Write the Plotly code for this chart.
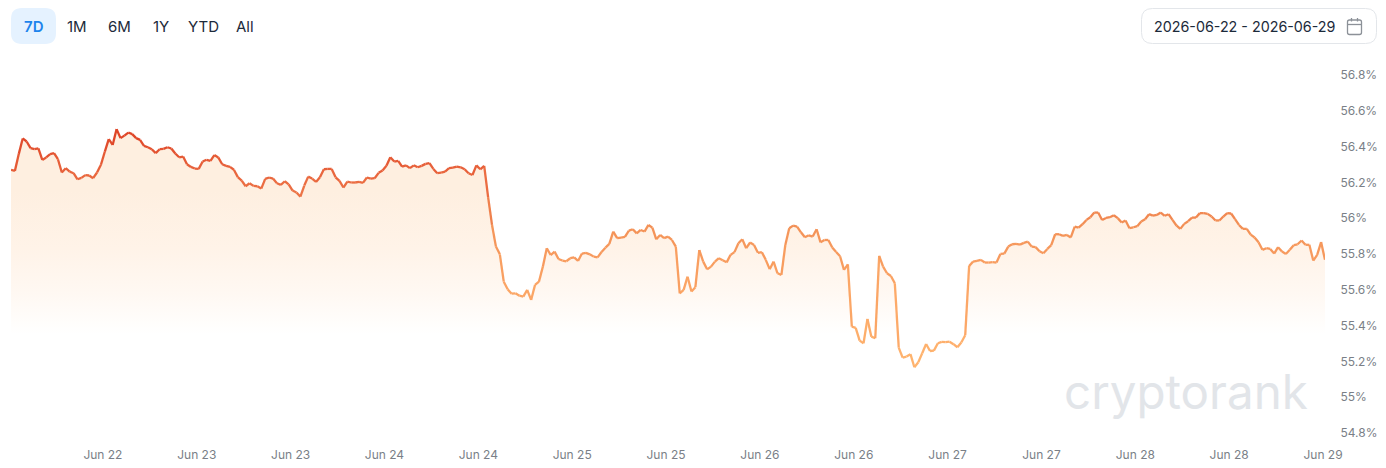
import pandas as pd
import plotly.graph_objects as go
from plotly.colors import sample_colorscale

# share values, half-hourly, one list per stretch
values_jun22 = [56.27, 56.264, 56.359, 56.445, 56.428, 56.391, 56.385, 56.39, 56.325, 56.339, 56.357, 56.363,
                56.329, 56.255, 56.279, 56.26, 56.251, 56.217, 56.225, 56.24, 56.238, 56.223, 56.255, 56.298,
                56.372, 56.441, 56.409, 56.497, 56.447, 56.461, 56.478, 56.469, 56.447, 56.437, 56.404, 56.396,
                56.385, 56.363, 56.385, 56.387, 56.396, 56.389, 56.361, 56.34, 56.344, 56.301, 56.286, 56.277]
values_jun23 = [56.275, 56.316, 56.326, 56.32, 56.352, 56.339, 56.301, 56.292, 56.286, 56.27, 56.229, 56.21,
                56.178, 56.195, 56.18, 56.178, 56.165, 56.219, 56.227, 56.221, 56.195, 56.186, 56.206, 56.189,
                56.154, 56.143, 56.12, 56.182, 56.232, 56.221, 56.202, 56.228, 56.273, 56.275, 56.275, 56.228,
                56.208, 56.171, 56.204, 56.199, 56.199, 56.202, 56.197, 56.227, 56.221, 56.223, 56.253, 56.266]
values_jun24 = [56.292, 56.34, 56.316, 56.32, 56.288, 56.295, 56.279, 56.295, 56.284, 56.292, 56.303, 56.307,
                56.275, 56.251, 56.254, 56.26, 56.279, 56.282, 56.288, 56.284, 56.273, 56.251, 56.241, 56.295,
                56.273, 56.292, 56.117, 55.962, 55.841, 55.798, 55.645, 55.603, 55.578, 55.58, 55.567, 55.562,
                55.599, 55.543, 55.627, 55.645, 55.729, 55.832, 55.794, 55.813, 55.772, 55.763, 55.759, 55.776]
values_jun25 = [55.781, 55.761, 55.802, 55.806, 55.798, 55.785, 55.781, 55.811, 55.835, 55.856, 55.925, 55.888,
                55.891, 55.895, 55.93, 55.938, 55.915, 55.934, 55.925, 55.962, 55.947, 55.882, 55.906, 55.888,
                55.897, 55.878, 55.841, 55.58, 55.599, 55.673, 55.59, 55.614, 55.822, 55.757, 55.714, 55.729,
                55.757, 55.776, 55.765, 55.753, 55.795, 55.81, 55.86, 55.882, 55.832, 55.864, 55.85, 55.806]
values_jun26 = [55.81, 55.767, 55.715, 55.757, 55.692, 55.683, 55.85, 55.944, 55.958, 55.953, 55.921, 55.893,
                55.904, 55.897, 55.938, 55.865, 55.878, 55.878, 55.836, 55.811, 55.787, 55.711, 55.742, 55.394,
                55.387, 55.316, 55.301, 55.437, 55.338, 55.329, 55.789, 55.729, 55.692, 55.677, 55.636, 55.277,
                55.221, 55.227, 55.24, 55.167, 55.195, 55.245, 55.297, 55.258, 55.26, 55.301, 55.309, 55.307]
values_jun27 = [55.31, 55.296, 55.279, 55.305, 55.346, 55.733, 55.757, 55.761, 55.767, 55.752, 55.752, 55.754,
                55.752, 55.8, 55.802, 55.841, 55.854, 55.856, 55.852, 55.862, 55.869, 55.841, 55.838, 55.815,
                55.804, 55.828, 55.849, 55.91, 55.91, 55.901, 55.906, 55.892, 55.953, 55.947, 55.966, 55.99,
                56.005, 56.031, 56.031, 55.99, 56.001, 56.005, 56.016, 56.0, 55.975, 55.987, 55.944, 55.949]
values_jun28 = [55.955, 55.981, 55.994, 56.022, 56.014, 56.018, 56.031, 56.013, 56.022, 55.99, 55.959, 55.94,
                55.968, 55.983, 56.003, 56.003, 56.028, 56.028, 56.024, 56.009, 55.987, 55.987, 56.009, 56.028,
                56.026, 55.994, 55.962, 55.94, 55.94, 55.908, 55.892, 55.865, 55.823, 55.832, 55.828, 55.802,
                55.838, 55.813, 55.80, 55.823, 55.849, 55.854, 55.875, 55.851, 55.851, 55.763, 55.795, 55.866,
                55.767]

y_ticks = [54.8, 55, 55.2, 55.4, 55.6, 55.8, 56, 56.2, 56.4, 56.6, 56.8]
y_labels = ["54.8%", "55%", "55.2%", "55.4%", "55.6%", "55.8%", "56%", "56.2%", "56.4%", "56.6%", "56.8%"]
x_labels = ["Jun 22", "Jun 23", "Jun 23", "Jun 24", "Jun 24", "Jun 25", "Jun 25", "Jun 26", "Jun 26",
            "Jun 27", "Jun 27", "Jun 28", "Jun 28", "Jun 29"]
range_buttons = ["7D", "1M", "6M", "1Y", "YTD", "All"]
date_range_text = "2026-06-22 - 2026-06-29"

W, H = 1386, 468
M_L, M_R, M_T, M_B = 11, 61, 57, 25
FONT = "Inter"

values = values_jun22 + values_jun23 + values_jun24 + values_jun25 + values_jun26 + values_jun27 + values_jun28
times = pd.date_range("2026-06-22 00:00", periods=len(values), freq="30min")
x_ticks = pd.date_range("2026-06-22 11:45", periods=len(x_labels), freq="12h")

line_scale = [[0, "#ffb56f"], [0.35, "#fba465"], [0.6, "#f39257"], [0.8, "#ea6a40"], [1, "#de4326"]]
y_low, y_high = 55.15, 56.48


# page pixels to paper coords (paper is the plot area)
def px(x):
    return (x - M_L) / (W - M_L - M_R)


def py(y):
    return 1 - (y - M_T) / (H - M_T - M_B)


def rounded(x0, y0, x1, y1, r):
    # rounded rectangle path in paper coords, given in page pixels
    return (f"M {px(x0 + r)} {py(y0)} L {px(x1 - r)} {py(y0)} Q {px(x1)} {py(y0)} {px(x1)} {py(y0 + r)} "
            f"L {px(x1)} {py(y1 - r)} Q {px(x1)} {py(y1)} {px(x1 - r)} {py(y1)} "
            f"L {px(x0 + r)} {py(y1)} Q {px(x0)} {py(y1)} {px(x0)} {py(y1 - r)} "
            f"L {px(x0)} {py(y0 + r)} Q {px(x0)} {py(y0)} {px(x0 + r)} {py(y0)} Z")


fig = go.Figure()

# area under the line, fading out around 55.4
fig.add_trace(go.Scatter(
    x=times, y=values, mode="lines", line=dict(width=0), fill="tozeroy", hoverinfo="skip", showlegend=False,
    fillgradient=dict(type="vertical", start=55.35, stop=56.15,
                      colorscale=[[0, "#ffffff"], [0.3, "#fff8f2"], [0.6, "#fff3e8"], [1, "#feefe0"]]),
))

# the line changes colour with height, so group its segments into colour bands
n_bands = 30
bands = [dict(x=[], y=[]) for _ in range(n_bands)]
for i in range(len(values) - 1):
    mid = (values[i] + values[i + 1]) / 2
    k = int((mid - y_low) / (y_high - y_low) * n_bands)
    k = max(0, min(n_bands - 1, k))
    bands[k]["x"] += [times[i], times[i + 1], None]
    bands[k]["y"] += [values[i], values[i + 1], None]

band_colors = sample_colorscale(line_scale, [(k + 0.5) / n_bands for k in range(n_bands)])
for band, color in zip(bands, band_colors):
    fig.add_trace(go.Scatter(x=band["x"], y=band["y"], mode="lines", showlegend=False, hoverinfo="skip",
                             connectgaps=False, line=dict(color=color, width=2.3)))

shapes = [
    dict(type="path", xref="paper", yref="paper", path=rounded(11, 8, 56, 44, 11), fillcolor="#e5f2ff",
         line=dict(width=0), layer="below"),
    dict(type="path", xref="paper", yref="paper", path=rounded(1141.5, 8.5, 1376.5, 43.5, 11),
         fillcolor="#ffffff", line=dict(color="#e3e6ea", width=1)),
    # calendar icon
    dict(type="path", xref="paper", yref="paper", path=rounded(1347.5, 20, 1361.5, 34.5, 2),
         line=dict(color="#8c9198", width=1.3)),
    dict(type="line", xref="paper", yref="paper", x0=px(1347.5), x1=px(1361.5), y0=py(24.5), y1=py(24.5),
         line=dict(color="#8c9198", width=1.3)),
    dict(type="line", xref="paper", yref="paper", x0=px(1351.5), x1=px(1351.5), y0=py(18), y1=py(21.5),
         line=dict(color="#8c9198", width=1.3)),
    dict(type="line", xref="paper", yref="paper", x0=px(1357.5), x1=px(1357.5), y0=py(18), y1=py(21.5),
         line=dict(color="#8c9198", width=1.3)),
]

button_x = [34, 77, 119, 161, 203, 245]
annotations = []
for label, bx in zip(range_buttons, button_x):
    active = label == "7D"
    annotations.append(dict(
        text=label, x=px(bx), y=py(26.5), xref="paper", yref="paper",
        showarrow=False, xanchor="center", yanchor="middle",
        font=dict(family=FONT, size=15, weight=600 if active else 400, color="#1d84ec" if active else "#1c2a3a"),
    ))
annotations.append(dict(text=date_range_text, x=px(1245), y=py(26.5), xref="paper", yref="paper",
                        showarrow=False, xanchor="center", yanchor="middle",
                        font=dict(family=FONT, size=14.3, color="#1c2a3a")))
annotations.append(dict(text="cryptorank", x=px(1185.5), y=py(391), xref="paper", yref="paper",
                        showarrow=False, xanchor="center", yanchor="middle",
                        font=dict(family=FONT, size=47.5, color="#e2e5e9")))

fig.update_layout(
    width=W, height=H,
    margin=dict(l=M_L, r=M_R, t=M_T, b=M_B, autoexpand=False),
    paper_bgcolor="#ffffff", plot_bgcolor="#ffffff",
    shapes=shapes, annotations=annotations, showlegend=False,
    xaxis=dict(range=[times[0], times[-1]], tickmode="array", tickvals=list(x_ticks), ticktext=x_labels,
               showgrid=False, zeroline=False, showline=False, ticks="outside", ticklen=1,
               tickcolor="rgba(0,0,0,0)", tickangle=0, tickfont=dict(family=FONT, size=12, color="#7a7f87")),
    yaxis=dict(range=[54.744, 56.9], side="right", tickmode="array", tickvals=y_ticks, ticktext=y_labels,
               showgrid=False, zeroline=False, showline=False, ticks="outside", ticklen=12,
               tickcolor="rgba(0,0,0,0)", tickfont=dict(family=FONT, size=12, color="#7a7f87")),
)

fig.write_html("out.html", config=dict(displayModeBar=False), post_script="document.body.style.margin='0';")
